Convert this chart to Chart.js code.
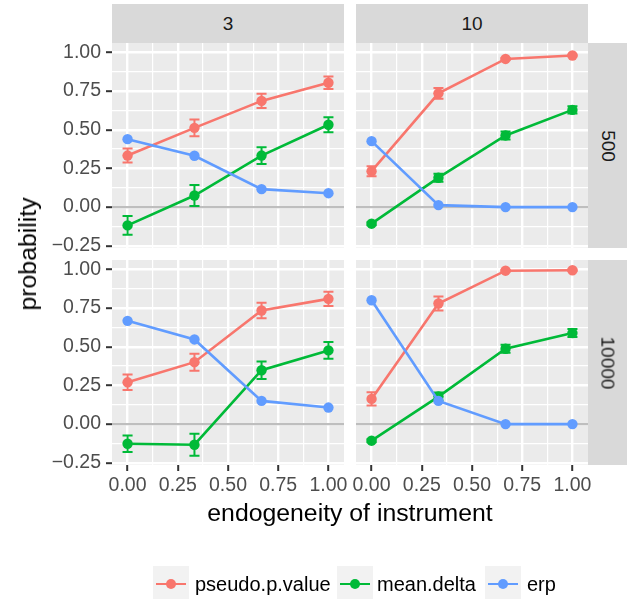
<!DOCTYPE html>
<html>
<head>
<meta charset="utf-8">
<script src="https://cdn.jsdelivr.net/npm/chart.js@4.4.1/dist/chart.umd.min.js"></script>
<style>
  body { margin: 0; background: #fff; font-family: "Liberation Sans", Arial, sans-serif; }
  #page { position: relative; width: 639px; height: 599px; overflow: hidden; }
  #page canvas { position: absolute; left: 0; top: 0; }
  .strip { position: absolute; background: #D9D9D9; color: #1A1A1A; font-size: 19px;
           display: flex; align-items: center; justify-content: center; z-index: 2; }
  .strip.side span { display: inline-block; transform: rotate(90deg); white-space: nowrap; }
  .title { position: absolute; font-size: 24.8px; color: #000; white-space: nowrap; z-index: 2; }
  .key { position: absolute; top: 566px; width: 36px; height: 36px; background: #F2F2F2; z-index: 2; }
  .key i { position: absolute; left: 3px; right: 3px; top: 16.7px; height: 2.6px; }
  .key b { position: absolute; left: 12.8px; top: 12.8px; width: 10.4px; height: 10.4px; border-radius: 50%; }
  .ltext { position: absolute; top: 572px; font-size: 20px; line-height: 24px; color: #000; white-space: nowrap; z-index: 2; }
</style>
</head>
<body>
<div id="page">
  <canvas id="c00" width="639" height="599"></canvas>
  <canvas id="c10" width="639" height="599"></canvas>
  <canvas id="c01" width="639" height="599"></canvas>
  <canvas id="c11" width="639" height="599"></canvas>
</div>
<script>
// facets and series
const instrumentCounts = ['3', '10'];      // columns
const sampleSizes = ['500', '10000'];      // rows
const seriesNames = ['pseudo.p.value', 'mean.delta', 'erp'];
const seriesColors = ['#F8766D', '#00BA38', '#619CFF'];
const xValues = [0, 0.333, 0.667, 1];

// 3 instruments, n = 500
const pseudo3n500 = [0.333, 0.512, 0.686, 0.803];
const pseudoErr3n500 = [0.045, 0.054, 0.046, 0.040];
const delta3n500 = [-0.118, 0.075, 0.333, 0.532];
const deltaErr3n500 = [0.060, 0.068, 0.054, 0.048];
const erp3n500 = [0.439, 0.332, 0.116, 0.090];

// 10 instruments, n = 500
const pseudo10n500 = [0.232, 0.735, 0.957, 0.979];
const pseudoErr10n500 = [0.032, 0.035, 0.006, 0.005];
const delta10n500 = [-0.107, 0.190, 0.463, 0.628];
const deltaErr10n500 = [0.010, 0.026, 0.026, 0.024];
const erp10n500 = [0.426, 0.013, 0.0, 0.0];

// 3 instruments, n = 10000
const pseudo3n10000 = [0.270, 0.400, 0.734, 0.809];
const pseudoErr3n10000 = [0.050, 0.055, 0.050, 0.046];
const delta3n10000 = [-0.127, -0.133, 0.348, 0.476];
const deltaErr3n10000 = [0.053, 0.071, 0.056, 0.054];
const erp3n10000 = [0.667, 0.547, 0.150, 0.107];

// 10 instruments, n = 10000
const pseudo10n10000 = [0.163, 0.779, 0.991, 0.994];
const pseudoErr10n10000 = [0.043, 0.045, 0.005, 0.005];
const delta10n10000 = [-0.107, 0.178, 0.487, 0.588];
const deltaErr10n10000 = [0.010, 0.026, 0.026, 0.026];
const erp10n10000 = [0.800, 0.150, 0.0, 0.0];

// axes
const xMajor = [0, 0.25, 0.5, 0.75, 1];
const xMinor = [0.125, 0.375, 0.625, 0.875];
const xTickLabels = ['0.00', '0.25', '0.50', '0.75', '1.00'];
const yMajor = [-0.25, 0, 0.25, 0.5, 0.75, 1];
const yMinor = [-0.125, 0.125, 0.375, 0.625, 0.875];
const yTickLabels = ['\u22120.25', '0.00', '0.25', '0.50', '0.75', '1.00'];
const xLimits = [-0.0775, 1.0775];
const yLimits = [-0.264, 1.06];
const errorBarWidth = 0.05;

// panel geometry in page pixels
const panelLeft = [112, 356], panelRight = [344, 588];
const panelTop = [43, 260], panelBottom = [248, 465];
const yAxisWidth = 60, xAxisHeight = 40;

Chart.defaults.font.family = '"Liberation Sans", Arial, sans-serif';

const panelBackground = {
  id: 'panelBackground',
  beforeDraw(chart) {
    const { ctx, chartArea: a } = chart;
    ctx.save();
    ctx.fillStyle = '#EBEBEB';
    ctx.fillRect(a.left, a.top, a.right - a.left, a.bottom - a.top);
    ctx.restore();
  }
};

// zero line and error bars, both under the lines and points
const errorBars = {
  id: 'errorBars',
  beforeDatasetsDraw(chart) {
    const { ctx, chartArea: a } = chart;
    const xs = chart.scales.x, ys = chart.scales.y;
    ctx.save();
    const y0 = ys.getPixelForValue(0);
    ctx.strokeStyle = '#BEBEBE';
    ctx.lineWidth = 2.4;
    ctx.beginPath();
    ctx.moveTo(a.left, y0);
    ctx.lineTo(a.right, y0);
    ctx.stroke();
    chart.data.datasets.forEach(ds => {
      if (!ds.errors) return;
      ctx.strokeStyle = ds.borderColor;
      ctx.lineWidth = 2;
      ds.data.forEach((p, i) => {
        const e = ds.errors[i];
        const px = xs.getPixelForValue(p.x);
        const half = xs.getPixelForValue(p.x + errorBarWidth / 2) - px;
        const top = ys.getPixelForValue(p.y + e);
        const bot = ys.getPixelForValue(p.y - e);
        ctx.beginPath();
        ctx.moveTo(px - half, top); ctx.lineTo(px + half, top);
        ctx.moveTo(px, top); ctx.lineTo(px, bot);
        ctx.moveTo(px - half, bot); ctx.lineTo(px + half, bot);
        ctx.stroke();
      });
    });
    ctx.restore();
  }
};

function isMajor(v, majors) {
  return majors.some(m => Math.abs(m - v) < 1e-9);
}

function makePanel(col, row, values, errors) {
  const showY = col === 0;
  const showX = row === 1;
  const ctx = document.getElementById('c' + col + row);
  const gridOpts = majors => ({
    color: '#FFFFFF',
    lineWidth: c => isMajor(c.tick.value, majors) ? 2.4 : 1.2,
    tickColor: c => isMajor(c.tick.value, majors) ? '#333333' : 'rgba(0,0,0,0)',
    tickWidth: 2,
    tickLength: 6
  });
  return new Chart(ctx, {
    type: 'line',
    data: {
      datasets: seriesNames.map((name, s) => ({
        label: name,
        data: xValues.map((x, i) => ({ x: x, y: values[s][i] })),
        errors: errors[s],
        borderColor: seriesColors[s],
        backgroundColor: seriesColors[s],
        borderWidth: 2.6,
        pointRadius: 5.2,
        pointHoverRadius: 5.2,
        pointBorderWidth: 0,
        order: 3 - s
      }))
    },
    options: {
      responsive: false,
      animation: false,
      devicePixelRatio: 1,
      events: [],
      layout: {
        padding: {
          left: panelLeft[col] - (showY ? yAxisWidth : 0),
          right: 639 - panelRight[col],
          top: panelTop[row],
          bottom: 599 - panelBottom[row] - (showX ? xAxisHeight : 0)
        }
      },
      plugins: { legend: { display: false }, tooltip: { enabled: false } },
      scales: {
        x: {
          type: 'linear',
          min: xLimits[0], max: xLimits[1],
          border: { display: false },
          grid: Object.assign(gridOpts(xMajor), { drawTicks: showX }),
          afterBuildTicks: sc => { sc.ticks = xMajor.concat(xMinor).sort((a, b) => a - b).map(v => ({ value: v })); },
          afterFit: sc => { sc.height = showX ? xAxisHeight : 0; },
          ticks: {
            display: showX,
            autoSkip: false, maxRotation: 0, minRotation: 0,
            padding: 3,
            color: '#4D4D4D',
            font: { size: 19.5 },
            callback: v => { const k = xMajor.findIndex(m => Math.abs(m - v) < 1e-9); return k < 0 ? '' : xTickLabels[k]; }
          }
        },
        y: {
          type: 'linear',
          min: yLimits[0], max: yLimits[1],
          border: { display: false },
          grid: Object.assign(gridOpts(yMajor), { drawTicks: showY }),
          afterBuildTicks: sc => { sc.ticks = yMajor.concat(yMinor).sort((a, b) => a - b).map(v => ({ value: v })); },
          afterFit: sc => { sc.width = showY ? yAxisWidth : 0; },
          ticks: {
            display: showY,
            autoSkip: false,
            padding: 5,
            color: '#4D4D4D',
            font: { size: 19.5 },
            callback: v => { const k = yMajor.findIndex(m => Math.abs(m - v) < 1e-9); return k < 0 ? '' : yTickLabels[k]; }
          }
        }
      }
    },
    plugins: [panelBackground, errorBars]
  });
}

makePanel(0, 0, [pseudo3n500, delta3n500, erp3n500], [pseudoErr3n500, deltaErr3n500, null]);
makePanel(1, 0, [pseudo10n500, delta10n500, erp10n500], [pseudoErr10n500, deltaErr10n500, null]);
makePanel(0, 1, [pseudo3n10000, delta3n10000, erp3n10000], [pseudoErr3n10000, deltaErr3n10000, null]);
makePanel(1, 1, [pseudo10n10000, delta10n10000, erp10n10000], [pseudoErr10n10000, deltaErr10n10000, null]);

// facet strips, axis titles and legend
const page = document.getElementById('page');
function addDiv(cls, style, html) {
  const d = document.createElement('div');
  d.className = cls;
  Object.assign(d.style, style);
  d.innerHTML = html;
  page.appendChild(d);
  return d;
}
instrumentCounts.forEach((name, c) => {
  addDiv('strip', { left: panelLeft[c] + 'px', top: '4px', width: (panelRight[c] - panelLeft[c]) + 'px', height: (panelTop[0] - 4) + 'px' }, name);
});
sampleSizes.forEach((name, r) => {
  addDiv('strip side', { left: panelRight[1] + 'px', top: panelTop[r] + 'px', width: '39px', height: (panelBottom[r] - panelTop[r]) + 'px' }, '<span>' + name + '</span>');
});
addDiv('title', { left: '28px', top: '254px', transform: 'translate(-50%, -50%) rotate(-90deg)' }, 'probability');
addDiv('title', { left: '350px', top: '513px', transform: 'translate(-50%, -50%)' }, 'endogeneity of instrument');

const keyLeft = [153, 337, 485];
const textLeft = [195, 377, 527];
seriesNames.forEach((name, s) => {
  addDiv('key', { left: keyLeft[s] + 'px' }, '<i style="background:' + seriesColors[s] + '"></i><b style="background:' + seriesColors[s] + '"></b>');
  addDiv('ltext', { left: textLeft[s] + 'px' }, name);
});
</script>
</body>
</html>
